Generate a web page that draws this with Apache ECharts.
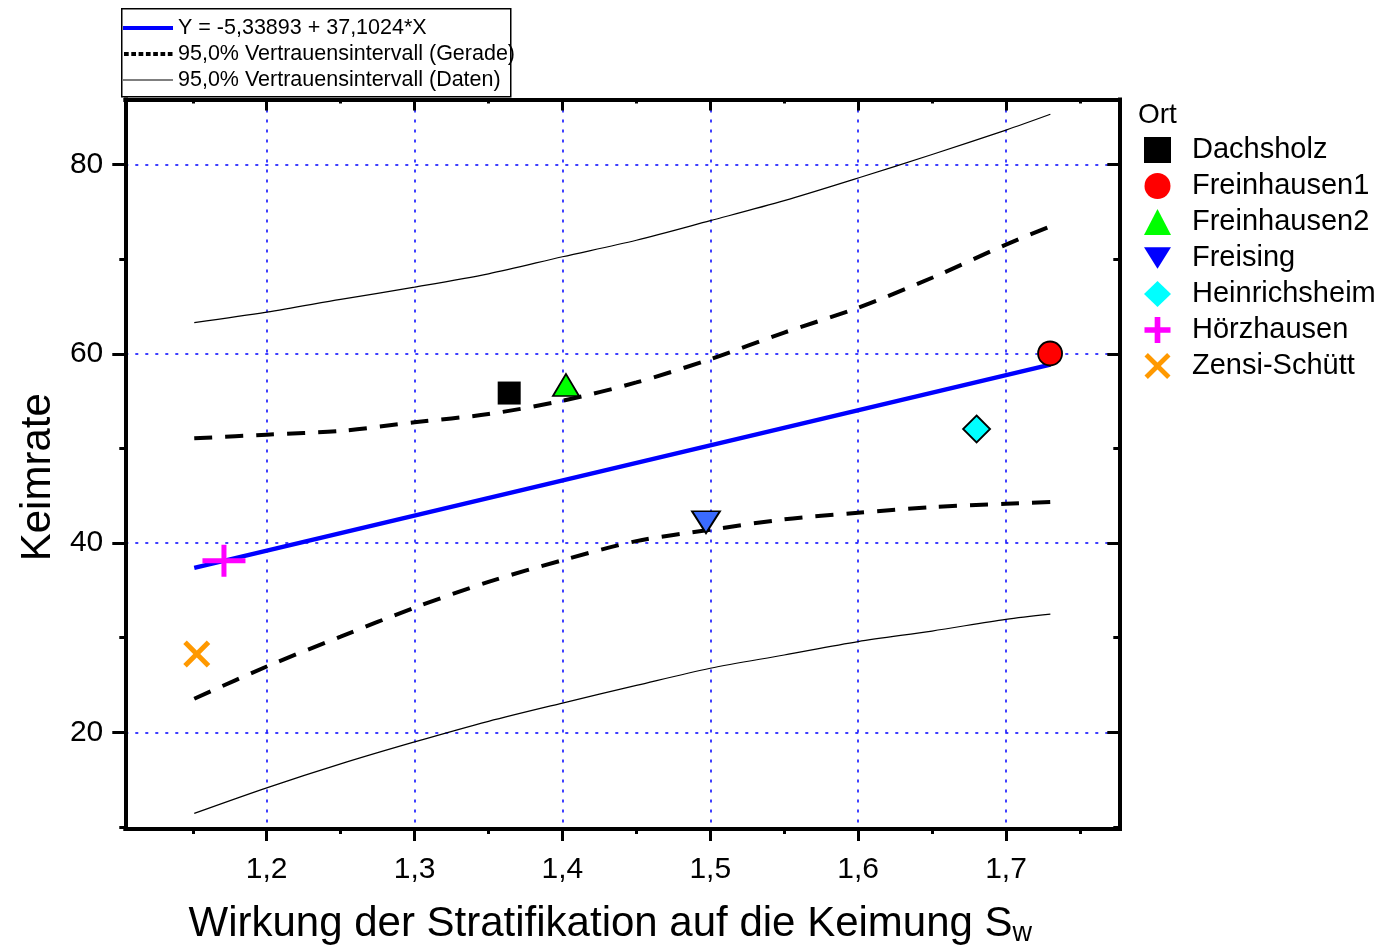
<!DOCTYPE html>
<html>
<head>
<meta charset="utf-8">
<script src="https://cdn.jsdelivr.net/npm/echarts@6/dist/echarts.min.js"></script>
<style>html,body{margin:0;padding:0;background:#fff}#c{width:1387px;height:952px}</style>
</head>
<body>
<div id="c"></div>
<script>
// ---- data ----
const fitName = 'Y = -5,33893 + 37,1024*X';
const geradeName = '95,0% Vertrauensintervall (Gerade)';
const datenName = '95,0% Vertrauensintervall (Daten)';
const fitX = [1.151, 1.73];
const fitY = [37.38, 58.85];
const bandX = [1.151, 1.2, 1.25, 1.3, 1.35, 1.4, 1.45, 1.5, 1.55, 1.6, 1.65, 1.7, 1.73];
const geradeUpper = [51.07, 51.45, 51.85, 52.76, 53.63, 55.03, 56.97, 59.43, 62.24, 64.87, 68.03, 71.54, 73.47];
const geradeLower = [23.54, 26.95, 30.11, 33.17, 35.9, 38.18, 40.2, 41.4, 42.5, 43.2, 43.8, 44.15, 44.33];
const datenUpper = [63.3, 64.41, 65.75, 67.04, 68.45, 70.25, 72.0, 74.07, 76.18, 78.57, 81.06, 83.64, 85.31];
const datenLower = [11.43, 14.13, 16.66, 18.98, 21.16, 23.09, 24.95, 26.77, 28.17, 29.59, 30.7, 31.94, 32.49];
const orte = ['Dachsholz', 'Freinhausen1', 'Freinhausen2', 'Freising', 'Heinrichsheim', 'Hörzhausen', 'Zensi-Schütt'];
const ortX = [1.364, 1.7298, 1.4024, 1.4971, 1.6801, 1.1711, 1.1527];
const ortY = [55.85, 60.03, 56.7, 42.2, 52.05, 38.12, 28.28];
const xMajor = [1.2, 1.3, 1.4, 1.5, 1.6, 1.7];
const xMinor = [1.15, 1.25, 1.35, 1.45, 1.55, 1.65, 1.75];
const yMajor = [20, 40, 60, 80];
const yMinor = [10, 30, 50, 70];
const xTitle = 'Wirkung der Stratifikation auf die Keimung S';
const xTitleSub = 'w';
const yTitle = 'Keimrate';
const legendTitle = 'Ort';

// ---- styles ----
const FONT = "'Liberation Sans', Arial, sans-serif";
const PLUS = 'path://M19,0 H24 V13.5 H43 V18.5 H24 V32 H19 V18.5 H0 V13.5 H19 Z';
const PLUS_SQ = 'path://M9,0 H14 V9 H23 V14 H14 V23 H9 V14 H0 V9 H9 Z';
const CROSS = 'path://M0,13 L13,0 L50,37 L87,0 L100,13 L63,50 L100,87 L87,100 L50,63 L13,100 L0,87 L37,50 Z';
const DOWN = 'path://M0,0 L20,0 L10,16 Z';
// legend line icons (box 50 x 4)
const ICON_SOLID = 'path://M0,0 H50 V4 H0 Z';
const ICON_DOTS = 'path://M0,0 L0,4 L0,0 Z M1,0 H5.7 V4 H1 Z M8.3,0 H13 V4 H8.3 Z M15.6,0 H20.3 V4 H15.6 Z M22.9,0 H27.6 V4 H22.9 Z M30.2,0 H34.9 V4 H30.2 Z M37.5,0 H42.2 V4 H37.5 Z M44.8,0 H49.5 V4 H44.8 Z M50,0 L50,4 L50,0 Z';
const ICON_THIN = 'path://M0,0 L0,4 L0,0 Z M0,1.4 H50 V2.6 H0 Z M50,0 L50,4 L50,0 Z';
const markerStyle = [
  {symbol: 'rect', size: 23, color: '#000000', border: 0},
  {symbol: 'circle', size: 24, color: '#ff0000', border: 1.8},
  {symbol: 'triangle', size: [26, 22], color: '#00ff00', border: 1.8},
  {symbol: DOWN, size: [28, 22], color: '#3a6bff', border: 1.8, legendColor: '#0000ff'},
  {symbol: 'diamond', size: 27, color: '#00ffff', border: 1.8},
  {symbol: PLUS, size: [43, 32], color: '#ff00ff', border: 0, legendIcon: PLUS_SQ},
  {symbol: CROSS, size: 27, color: '#ff9900', border: 0}
];
const xMin = 1.10437, xMax = 1.77662, yMin = 9.78, yMax = 86.87;

const pairs = (xs, ys) => xs.map((x, i) => [x, ys[i]]);
const comma = v => Number(v).toFixed(1).replace('.', ',');

function xAx(pos, values, len, inside, showLine, main) {
  return {
    type: 'value', min: xMin, max: xMax, position: pos,
    axisLine: {show: showLine, onZero: false, lineStyle: {color: '#000', width: 4, cap: 'square'}},
    axisTick: {show: true, inside: inside, length: len, customValues: values, lineStyle: {color: '#000', width: 3}},
    axisLabel: main ? {show: true, customValues: values, formatter: comma, fontSize: 30, margin: 26, color: '#000', fontFamily: FONT} : {show: false},
    splitLine: main ? {show: true, lineStyle: {color: '#0000ff', type: [3, 7], width: 1.5}} : {show: false},
    minorTick: {show: false}
  };
}
function yAx(pos, values, len, inside, showLine, main) {
  return {
    type: 'value', min: yMin, max: yMax, position: pos,
    axisLine: {show: showLine, onZero: false, lineStyle: {color: '#000', width: 4, cap: 'square'}},
    axisTick: {show: true, inside: inside, length: len, customValues: values, lineStyle: {color: '#000', width: 3}},
    axisLabel: main ? {show: true, customValues: values, fontSize: 30, margin: 22, color: '#000', fontFamily: FONT} : {show: false},
    splitLine: main ? {show: true, lineStyle: {color: '#0000ff', type: [3, 7], width: 1.5}} : {show: false}
  };
}

const xAxes = [
  Object.assign(xAx('bottom', xMajor, 12, false, true, true), {
    name: '{m|' + xTitle + '}{s|' + xTitleSub + '}', nameLocation: 'middle', nameGap: 73,
    nameTextStyle: {padding: [0, 24, 0, 0], rich: {
      m: {fontSize: 42, fontFamily: FONT, color: '#000'},
      s: {fontSize: 27, fontFamily: FONT, color: '#000', padding: [18, 0, 0, 0]}
    }}
  }),
  xAx('bottom', xMinor, 5, false, false, false),
  xAx('top', xMajor, 11, true, true, false),
  xAx('top', xMinor, 4, true, false, false)
];
const yAxes = [
  Object.assign(yAx('left', yMajor, 13, false, true, true), {
    name: yTitle, nameLocation: 'middle', nameGap: 64,
    nameTextStyle: {fontSize: 42, fontFamily: FONT, color: '#000', padding: [0, 26, 0, 0]}
  }),
  yAx('left', yMinor, 6, false, false, false),
  yAx('right', yMajor, 12, true, true, false),
  yAx('right', yMinor, 6, true, false, false)
];

const series = [
  {name: datenName, type: 'line', data: pairs(bandX, datenUpper), symbol: 'none', smooth: 0.3,
   lineStyle: {color: '#000', width: 1.2}, itemStyle: {color: '#000'}, z: 2},
  {name: datenName, type: 'line', data: pairs(bandX, datenLower), symbol: 'none', smooth: 0.3,
   lineStyle: {color: '#000', width: 1.2}, itemStyle: {color: '#000'}, z: 2},
  {name: geradeName, type: 'line', data: pairs(bandX, geradeUpper), symbol: 'none', smooth: 0.3,
   lineStyle: {color: '#000', width: 4, type: [18, 13]}, itemStyle: {color: '#000'}, z: 2},
  {name: geradeName, type: 'line', data: pairs(bandX, geradeLower), symbol: 'none', smooth: 0.3,
   lineStyle: {color: '#000', width: 4, type: [18, 13]}, itemStyle: {color: '#000'}, z: 2},
  {name: fitName, type: 'line', data: pairs(fitX, fitY), symbol: 'none',
   lineStyle: {color: '#0000ff', width: 4.5}, itemStyle: {color: '#0000ff'}, z: 3}
];
orte.forEach((o, i) => {
  const s = markerStyle[i];
  series.push({
    name: o, type: 'scatter', data: [[ortX[i], ortY[i]]],
    symbol: s.symbol, symbolSize: s.size, z: 5,
    itemStyle: {color: s.color, borderColor: '#000', borderWidth: s.border, opacity: 1}
  });
});

const option = {
  animation: false,
  backgroundColor: '#fff',
  textStyle: {fontFamily: FONT},
  grid: {left: 125.3, top: 99.5, right: 267.7, bottom: 120.7, containLabel: false},
  xAxis: xAxes,
  yAxis: yAxes,
  legend: [
    {
      orient: 'vertical', left: 123, top: 15, padding: 0, itemGap: 0,
      itemWidth: 50, itemHeight: 4,
      textStyle: {fontSize: 21.5, lineHeight: 26, color: '#000', fontFamily: FONT},
      itemStyle: {borderWidth: 0},
      data: [
        {name: fitName, icon: ICON_SOLID, itemStyle: {color: '#0000ff', borderWidth: 0}},
        {name: geradeName, icon: ICON_DOTS, itemStyle: {color: '#000', borderWidth: 0}},
        {name: datenName, icon: ICON_THIN, itemStyle: {color: '#000', borderWidth: 0}}
      ],
      selectedMode: false
    },
    {
      orient: 'vertical', left: 1144, top: 132, padding: 0, itemGap: 0,
      itemWidth: 27, itemHeight: 26,
      textStyle: {fontSize: 29, lineHeight: 36, color: '#000', fontFamily: FONT, padding: [0, 0, 0, 16]},
      itemStyle: {borderWidth: 0},
      data: orte.map((o, i) => {
        const s = markerStyle[i];
        const d = {name: o, icon: s.legendIcon || s.symbol, itemStyle: {borderWidth: 0}};
        if (s.legendColor) d.itemStyle.color = s.legendColor;
        return d;
      }),
      selectedMode: false
    }
  ],
  graphic: [
    {type: 'rect', left: 121, top: 8, z: 0,
     shape: {width: 389, height: 88},
     style: {fill: 'transparent', stroke: '#000', lineWidth: 1.5}},
    {type: 'text', left: 1138, top: 101, z: 10,
     style: {text: legendTitle, font: '28px ' + FONT, fill: '#000'}}
  ],
  series: series
};

const chart = echarts.init(document.getElementById('c'), null, {renderer: 'canvas'});
chart.setOption(option);
</script>
</body>
</html>
